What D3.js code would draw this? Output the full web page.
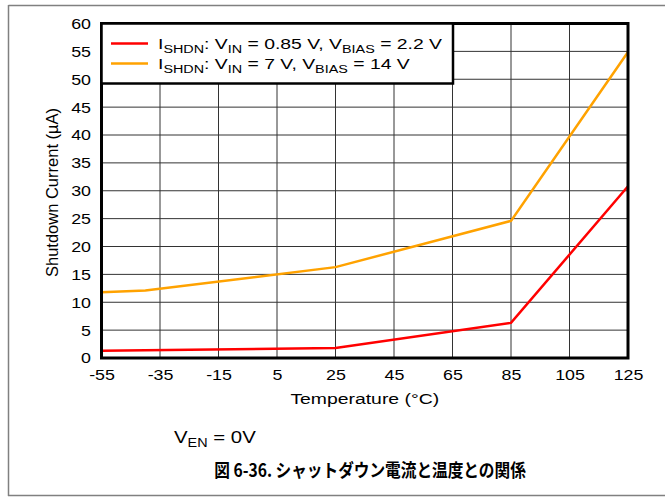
<!DOCTYPE html>
<html><head><meta charset="utf-8">
<script src="https://cdn.jsdelivr.net/npm/d3@7"></script>
<style>body{margin:0;background:#fff}svg{display:block}text{font-family:"Liberation Sans",Arial,sans-serif}</style>
</head><body>
<script>
const temps = [-55, -40, 25, 85, 125];
const redValues = [1.3, 1.4, 1.8, 6.3, 30.8];
const orangeValues = [11.8, 12.1, 16.3, 24.6, 54.9];
const xTicks = [-55, -35, -15, 5, 25, 45, 65, 85, 105, 125];
const yTicks = [0, 5, 10, 15, 20, 25, 30, 35, 40, 45, 50, 55, 60];
const seriesColors = ["#ff0000", "#ffa200"];
const legendLabels = [
  {vin: "0.85 V", vb: "2.2 V"},
  {vin: "7 V", vb: "14 V"}
];

const W = 665, H = 497;
const svg = d3.select("body").append("svg").attr("width", W).attr("height", H);

// outer frame
svg.append("line").attr("x1", 8.5).attr("x2", W).attr("y1", 5.5).attr("y2", 5.5).attr("stroke", "#808080").attr("stroke-width", 1.5);
svg.append("line").attr("x1", 8.5).attr("x2", 8.5).attr("y1", 5).attr("y2", 496).attr("stroke", "#808080").attr("stroke-width", 1.5);
svg.append("line").attr("x1", 8).attr("x2", W).attr("y1", 495.5).attr("y2", 495.5).attr("stroke", "#808080").attr("stroke-width", 1.5);

const L = 101.5, R = 628, T = 23.5, B = 358;
const x = d3.scaleLinear().domain([-55, 125]).range([L, R]);
const y = d3.scaleLinear().domain([0, 60]).range([B, T]);

const g = svg.append("g");
g.selectAll(".vg").data(xTicks).join("line")
  .attr("x1", d => x(d)).attr("x2", d => x(d)).attr("y1", T).attr("y2", B)
  .attr("stroke", "#333").attr("stroke-width", 1);
g.selectAll(".hg").data(yTicks).join("line")
  .attr("x1", L).attr("x2", R).attr("y1", d => y(d)).attr("y2", d => y(d))
  .attr("stroke", "#333").attr("stroke-width", 1);

const TS = 1.15;
const yAxis = d3.axisLeft(y).tickValues(yTicks).tickSize(0).tickPadding(0).tickFormat(d => String(d));
const ya = svg.append("g").attr("transform", `translate(${L},0)`).call(yAxis);
ya.select(".domain").remove();
ya.selectAll("text").attr("font-size", 15.5).attr("fill", "#000")
  .attr("x", -10.5 / TS).attr("transform", `scale(${TS},1)`);

const xAxis = d3.axisBottom(x).tickValues(xTicks).tickSize(0).tickPadding(11).tickFormat(d => String(d));
const xa = svg.append("g").attr("transform", `translate(0,${B})`).call(xAxis);
xa.select(".domain").remove();
xa.selectAll("text").attr("font-size", 15.5).attr("fill", "#000").attr("transform", `scale(${TS},1)`);

const line = d3.line().x((d, i) => x(temps[i])).y(d => y(d));
[redValues, orangeValues].forEach((vals, k) => {
  svg.append("path").attr("d", line(vals)).attr("fill", "none")
    .attr("stroke", seriesColors[k]).attr("stroke-width", 2.5).attr("stroke-linejoin", "miter");
});

svg.append("rect").attr("x", L).attr("y", T).attr("width", R - L).attr("height", B - T)
  .attr("fill", "none").attr("stroke", "#000").attr("stroke-width", 3);

// legend
const lg = svg.append("g");
lg.append("rect").attr("x", L).attr("y", T).attr("width", 453 - L).attr("height", 83.5 - T)
  .attr("fill", "#fff").attr("stroke", "#000").attr("stroke-width", 2.5);
legendLabels.forEach((it, i) => {
  const ly = 43.5 + i * 20;
  lg.append("line").attr("x1", 111).attr("x2", 148).attr("y1", ly).attr("y2", ly)
    .attr("stroke", seriesColors[i]).attr("stroke-width", 2.5);
  const t = lg.append("text").attr("transform", `translate(158,${ly + 5.5}) scale(1.25,1)`).attr("font-size", 15.5);
  t.append("tspan").text("I");
  t.append("tspan").attr("font-size", 11.5).attr("dy", 4).text("SHDN");
  t.append("tspan").attr("dy", -4).text(": V");
  t.append("tspan").attr("font-size", 11.5).attr("dy", 4).text("IN");
  t.append("tspan").attr("dy", -4).text(" = " + it.vin + ", V");
  t.append("tspan").attr("font-size", 11.5).attr("dy", 4).text("BIAS");
  t.append("tspan").attr("dy", -4).text(" = " + it.vb);
});

// axis titles
svg.append("text").attr("transform", `translate(${x(35)},404) scale(1.25,1)`).attr("text-anchor", "middle").attr("font-size", 15.5).text("Temperature (°C)");
svg.append("text").attr("transform", `translate(58,192.5) rotate(-90)`).attr("text-anchor", "middle").attr("font-size", 16.5).text("Shutdown Current (µA)");

// note
const n = svg.append("text").attr("transform", "translate(174,443) scale(1.2,1)").attr("font-size", 17);
n.append("tspan").text("V");
n.append("tspan").attr("font-size", 12).attr("dy", 4).text("EN");
n.append("tspan").attr("dy", -4).text(" = 0V");

// caption
svg.append("text").attr("transform", "translate(370,477) scale(0.87,1)").attr("text-anchor", "middle").attr("font-size", 18).attr("font-weight", "bold")
  .style("font-family", "'Noto Sans CJK JP', 'Noto Sans CJK SC', sans-serif")
  .text("図 6-36. シャットダウン電流と温度との関係");
</script>
</body></html>
